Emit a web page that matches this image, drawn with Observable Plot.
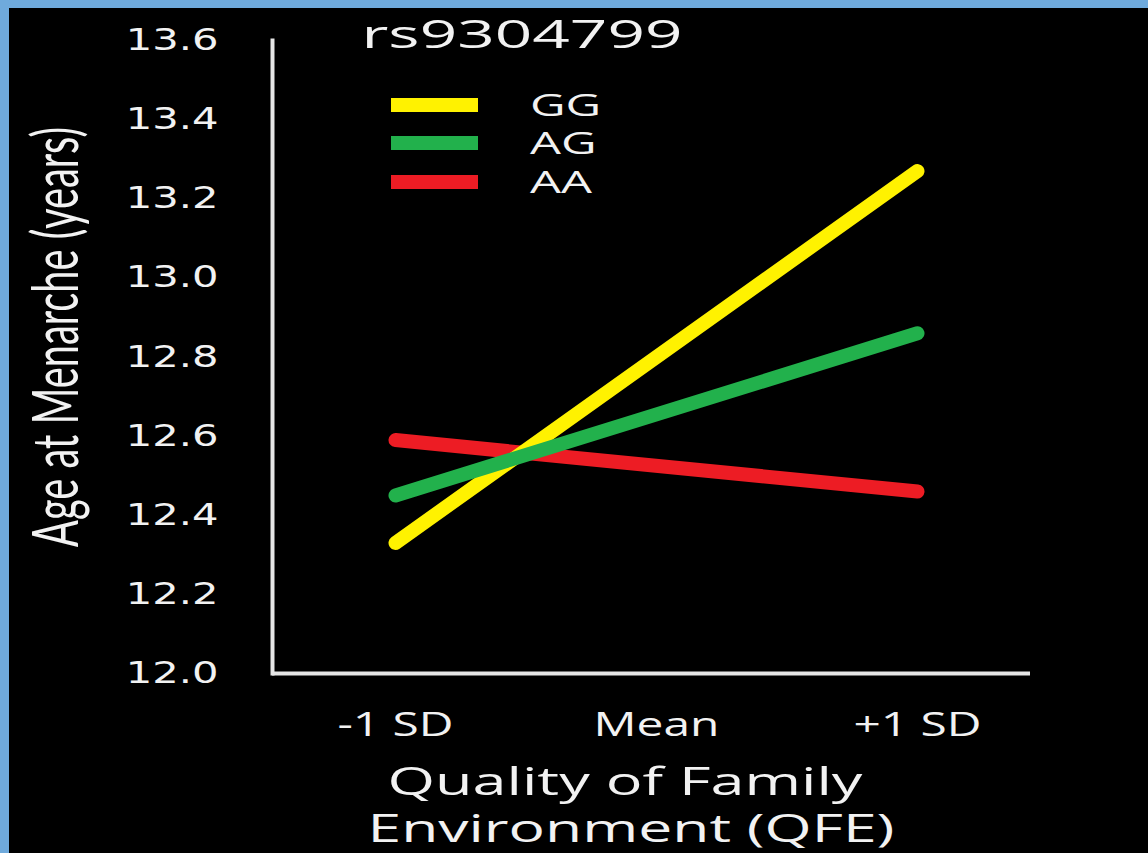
<!DOCTYPE html>
<html><head><meta charset="utf-8">
<script src="https://cdn.jsdelivr.net/npm/d3@7"></script>
<script src="https://cdn.jsdelivr.net/npm/@observablehq/plot@0.6"></script>
<style>
html,body{margin:0;padding:0;background:#6faadc;width:1148px;height:853px;overflow:hidden}
#chart{position:absolute;left:9px;top:8px;width:1139px;height:845px;background:#000}
</style></head><body><div id="chart"></div>
<script>
// ---- data ----
const title = "rs9304799";
const categories = ["-1 SD", "Mean", "+1 SD"];
const genotypes = ["GG", "AG", "AA"];
const genotypeColors = ["#fff200", "#22b14c", "#ed1c24"];
const lineX = ["-1 SD", "+1 SD"];
const ggValues = [12.33, 13.27];
const agValues = [12.45, 12.86];
const aaValues = [12.59, 12.46];
const yTicks = [12.0, 12.2, 12.4, 12.6, 12.8, 13.0, 13.2, 13.4, 13.6];
const yLabel = "Age at Menarche (years)";
const xLabelLines = ["Quality of Family", "Environment (QFE)"];

const seriesValues = {GG: ggValues, AG: agValues, AA: aaValues};
const rows = genotypes.flatMap(g => lineX.map((x, i) => ({genotype: g, x, y: seriesValues[g][i]})));
const drawOrder = ["AA", "GG", "AG"];

const W = 1139, H = 845;
const axisColor = "#e6e6e6";
const textColor = "#f2f2f2";

const chart = Plot.plot({
  width: W, height: H,
  marginLeft: 263, marginRight: 118, marginTop: 32, marginBottom: 180,
  style: {background: "#000", color: textColor, fontFamily: "Open Sans", overflow: "visible"},
  x: {type: "point", domain: categories, padding: 0.449, align: 0.523, label: null},
  y: {domain: [12, 13.6], label: null},
  color: {domain: genotypes, range: genotypeColors},
  marks: [
    Plot.axisY(yTicks, {tickSize: 0, tickPadding: 54, tickFormat: d => d.toFixed(1), fontSize: 30, fontFamily: "DejaVu Sans", label: null, fill: textColor, stroke: textColor, strokeWidth: 0.6}),
    Plot.axisX({tickSize: 0, tickPadding: 39, fontSize: 33, fontFamily: "Open Sans", label: null, fill: textColor}),
    Plot.ruleY([12], {stroke: axisColor, strokeWidth: 4}),
    Plot.frame({anchor: "left", stroke: axisColor, strokeWidth: 4}),
    ...drawOrder.map(g => Plot.line(rows.filter(r => r.genotype === g), {
      x: "x", y: "y", stroke: "genotype", strokeWidth: 14, strokeLinecap: "round"
    }))
  ]
});

document.getElementById("chart").append(chart);
const svg = d3.select(chart);

function stretch(sel, f) {
  sel.each(function() {
    const L = this.getComputedTextLength();
    this.setAttribute("textLength", L * f);
    this.setAttribute("lengthAdjust", "spacingAndGlyphs");
  });
}
stretch(svg.selectAll('g[aria-label="y-axis tick label"] text'), 1.39);
stretch(svg.selectAll('g[aria-label="x-axis tick label"] text'), 1.45);

// title
svg.append("text").text(title)
  .attr("x", 513).attr("y", 40).attr("text-anchor", "middle")
  .attr("font-family", "Open Sans").attr("font-size", 39).attr("fill", textColor)
  .attr("textLength", 321).attr("lengthAdjust", "spacingAndGlyphs");

// legend
const color = chart.scale("color");
const leg = svg.append("g");
const legY = [97, 135, 174];
genotypes.forEach((g, i) => {
  leg.append("line").attr("x1", 382).attr("x2", 469).attr("y1", legY[i]).attr("y2", legY[i])
    .attr("stroke", color.apply(g)).attr("stroke-width", 14);
  const t = leg.append("text").text(g).attr("x", 521).attr("y", legY[i] + 11)
    .attr("text-anchor", "start")
    .attr("font-family", "Open Sans").attr("font-size", 31).attr("fill", textColor);
  stretch(t, 1.58);
});

// x axis title
const xt = [[616, 787, 475], [622, 834, 527]];
xLabelLines.forEach((s, i) => {
  svg.append("text").text(s).attr("x", xt[i][0]).attr("y", xt[i][1]).attr("text-anchor", "middle")
    .attr("font-family", "Open Sans").attr("font-size", 38).attr("fill", textColor)
    .attr("textLength", xt[i][2]).attr("lengthAdjust", "spacingAndGlyphs");
});

// y axis title
svg.append("text").text(yLabel)
  .attr("transform", "translate(46,329) scale(1.8,1) rotate(-90)")
  .attr("text-anchor", "middle").attr("dy", "0.35em")
  .attr("font-family", "Lato").attr("font-size", 36).attr("fill", textColor)
  .attr("textLength", 420).attr("lengthAdjust", "spacingAndGlyphs");
</script>
</body></html>
